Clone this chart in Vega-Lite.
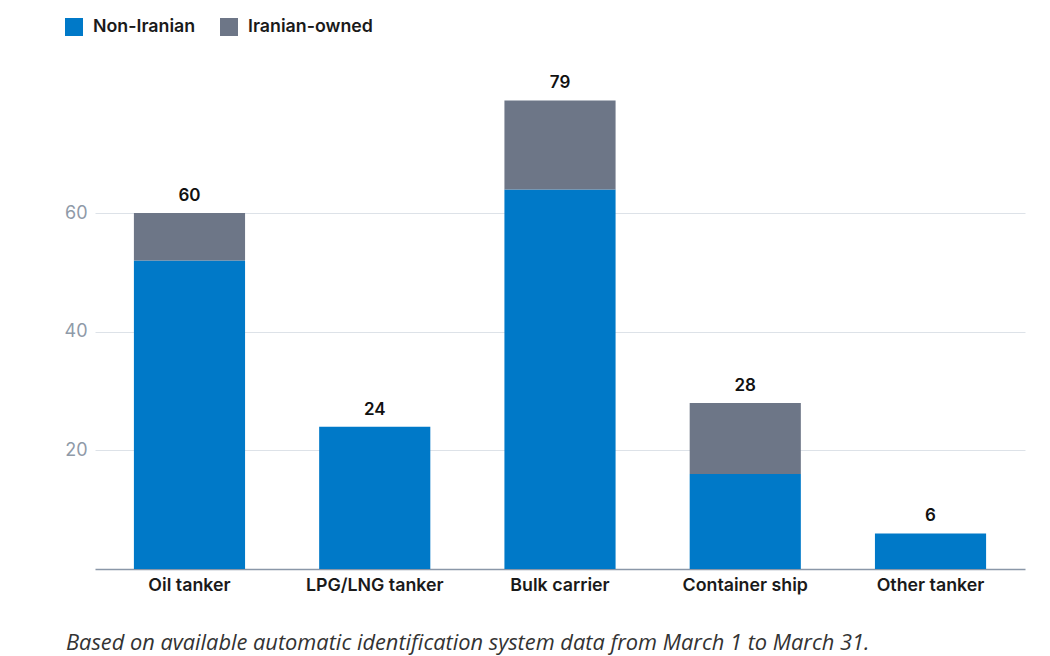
{"$schema":"https://vega.github.io/schema/vega-lite/v6.json","autosize":{"type":"none"},"width":930,"height":519,"padding":{"left":95,"right":25,"top":50,"bottom":87},"background":"white","config":{"font":"Inter","view":{"stroke":null}},"title":{"text":"Based on available automatic identification system data from March 1  to March 31.","orient":"bottom","anchor":"start","frame":"group","offset":39,"dx":-29,"font":"Open Sans","fontSize":21.8,"fontStyle":"italic","fontWeight":"normal","color":"#333333"},"data":{"values":[{"type":"Oil tanker","owner":"Non-Iranian","n":52,"o":0,"total":60},{"type":"Oil tanker","owner":"Iranian-owned","n":8,"o":1,"total":60},{"type":"LPG/LNG tanker","owner":"Non-Iranian","n":24,"o":0,"total":24},{"type":"Bulk carrier","owner":"Non-Iranian","n":64,"o":0,"total":79},{"type":"Bulk carrier","owner":"Iranian-owned","n":15,"o":1,"total":79},{"type":"Container ship","owner":"Non-Iranian","n":16,"o":0,"total":28},{"type":"Container ship","owner":"Iranian-owned","n":12,"o":1,"total":28},{"type":"Other tanker","owner":"Non-Iranian","n":6,"o":0,"total":6}]},"encoding":{"x":{"field":"type","type":"nominal","sort":["Oil tanker","LPG/LNG tanker","Bulk carrier","Container ship","Other tanker"],"title":null,"scale":{"paddingInner":0.4,"paddingOuter":0.21},"axis":{"labelAngle":0,"labelFont":"Inter","labelFontSize":17.8,"labelFontWeight":600,"labelColor":"#1a1a1a","domainColor":"#8a97a8","domainWidth":1.5,"ticks":false,"labelPadding":7}}},"layer":[{"mark":{"type":"bar"},"encoding":{"y":{"field":"n","type":"quantitative","stack":"zero","title":null,"scale":{"domain":[0,87.5],"nice":false},"axis":{"values":[20,40,60],"labelFont":"Inter","labelFontSize":18,"labelColor":"#8f9aa8","domain":false,"ticks":false,"grid":true,"gridColor":"#dde2e8","gridWidth":1,"labelPadding":8}},"color":{"field":"owner","type":"nominal","scale":{"domain":["Non-Iranian","Iranian-owned"],"range":["#0079C8","#6D7687"]},"legend":{"orient":"none","legendX":-30,"legendY":-32,"direction":"horizontal","title":null,"symbolType":"square","symbolSize":324,"symbolStrokeWidth":0,"labelFont":"Inter","labelFontSize":17.8,"labelFontWeight":600,"labelColor":"#1a1a1a","labelOffset":10,"columnPadding":24}},"order":{"field":"o","type":"quantitative"}}},{"transform":[{"filter":"datum.o === 0"}],"mark":{"type":"text","dy":-17,"font":"Inter","fontSize":17,"fontWeight":600,"color":"#111111"},"encoding":{"y":{"field":"total","type":"quantitative"},"text":{"field":"total","type":"quantitative"}}}]}
